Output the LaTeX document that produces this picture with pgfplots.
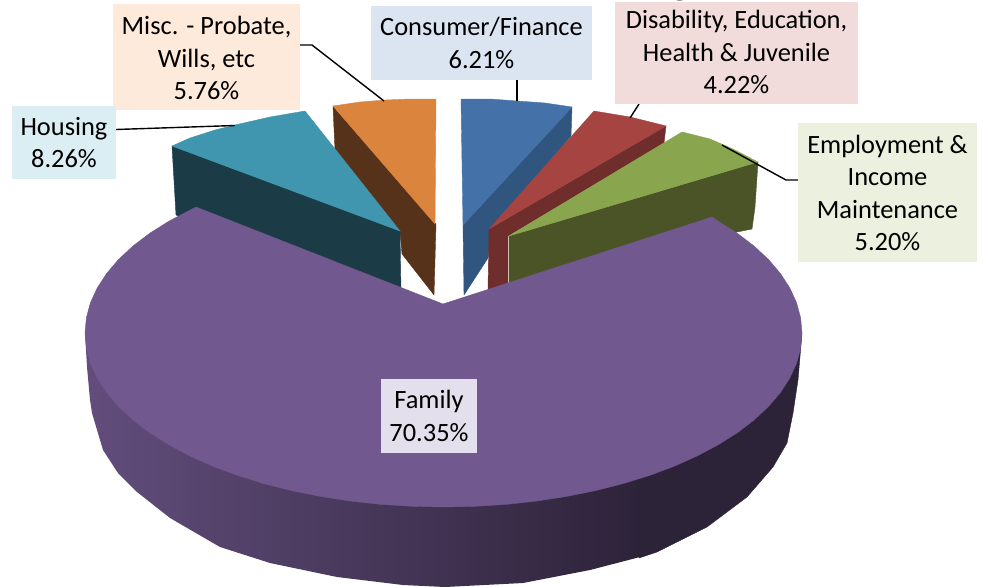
\documentclass[border=0pt]{standalone}
\usepackage{fontspec}
\setmainfont{Carlito}
\usepackage{pgfplots}
\pgfplotsset{compat=1.18}
\definecolor{blueT}{HTML}{4472A8}\definecolor{blueS}{HTML}{30557F}
\definecolor{redT}{HTML}{A64441}\definecolor{redS}{HTML}{6F2D2B}
\definecolor{greenT}{HTML}{89A54E}\definecolor{greenS}{HTML}{4A5427}
\definecolor{tealT}{HTML}{3F96AE}\definecolor{tealS}{HTML}{1B3B47}
\definecolor{orangeT}{HTML}{DB843D}\definecolor{orangeS}{HTML}{57321A}
\definecolor{purpleT}{HTML}{71588F}\definecolor{purpleL}{HTML}{624D7C}\definecolor{purpleR}{HTML}{2D2339}
\definecolor{boxO}{HTML}{FDEADA}\definecolor{boxB}{HTML}{DBE5F1}\definecolor{boxR}{HTML}{F2DCDB}
\definecolor{boxT}{HTML}{DAEEF3}\definecolor{boxG}{HTML}{EBF1DE}\definecolor{boxP}{HTML}{E4DFEC}
\tikzset{lab/.style={font=\fontsize{26.4}{32.5}\selectfont,align=center,text=black,inner sep=0pt,anchor=center}}
\pgfplotsset{poly/.style={fill=#1,draw=#1,line width=0.4pt},
  leader/.style={draw=black,line width=1.4pt}}
\begin{document}
\begin{tikzpicture}
\path[use as bounding box] (0,0) rectangle (984pt,586pt);
\clip (0,0) rectangle (984pt,586pt);
\begin{axis}[at={(0,0)},anchor=south west,scale only axis,width=984pt,height=586pt,
  xmin=0,xmax=984,ymin=0,ymax=586,y dir=reverse,hide axis,clip=false]
% orange
\addplot[poly=orangeS] coordinates {(333,106)(335,150)(400,232)(402,254)(434,295)(436,224)} -- cycle;
\addplot[poly=orangeT] coordinates {(333,106)(360,102)(385,100)(410,99)(436,99)(435,224)} -- cycle;
% teal
\addplot[poly=tealS] coordinates {(172,146)(176,215)(401,292)(400,231)} -- cycle;
\addplot[poly=tealT] coordinates {(172,146)(190,138)(215,130)(235,125)(270,117)(305,111)(400,231)} -- cycle;
% blue
\addplot[poly=blueS] coordinates {(572,107)(571,136)(490,233)(488,258)(464,295)(463,225)} -- cycle;
\addplot[poly=blueT] coordinates {(461,99)(490,99)(517,101)(545,103)(572,107)(463,225)} -- cycle;
% red
\addplot[poly=redS] coordinates {(666,126)(664,143)(508,236)(508,283)(488,290)(489,229)} -- cycle;
\addplot[poly=redT] coordinates {(594,111)(630,117)(666,126)(489,229)} -- cycle;
% green
\addplot[poly=greenS] coordinates {(758,162)(755,207)(752,229)(737,232)(509,285)(509,236)} -- cycle;
\addplot[poly=greenT] coordinates {(682,132)(710,139)(733,149)(758,162)(509,236)} -- cycle;
% family side
\addplot[draw=none,left color=purpleL,right color=purpleR] coordinates {(85,333)(87,367)(90,400)(92,413)(103,450)(118,473)(137,492)(170,518)(220,547)(270,563)(337,577)(403,585)(445,587)(523,583)(590,570)(640,557)(640,400)} -- cycle;
\addplot[poly=purpleR] coordinates {(639,400)(639,558)(657,552)(707,527)(747,497)(773,467)(787,443)(793,413)(798,380)(802,333)} -- cycle;
% family top
\addplot[poly=purpleT] coordinates {(443,304)(196,207)(168.9,221.2)(149.8,233.2)(133,246)(118.6,259.4)(106.6,273.5)(97.2,288)(90.4,302.8)(86.4,317.8)(85,333)
(86.4,348.2)(90.4,363.2)(97.2,378)(106.6,392.5)(118.6,406.5)(133,420)(149.8,432.8)(168.9,444.8)(190,456)(213,466.3)(237.7,475.5)(264.2,483.7)(291.9,490.7)(320.9,496.5)(350.7,501.1)(381.2,504.4)(412.3,506.3)(443.5,507)
(474.7,506.3)(505.8,504.4)(536.3,501.1)(566.1,496.5)(595.1,490.7)(622.8,483.7)(649.3,475.5)(674,466.3)(697,456)(718.1,444.8)(737.2,432.8)(754,420)(768.4,406.5)(780.4,392.5)(789.8,378)(796.6,363.2)(800.6,348.2)(802,333)
(800.6,317.8)(796.6,302.8)(789.8,288)(780.4,273.5)(768.4,259.4)(754,246)(737.2,233.2)(718.1,221.2)(712,217)} -- cycle;
% leaders
\addplot[leader] coordinates {(300,45)(312,45)(384,101)};
\addplot[leader] coordinates {(116,129.5)(235,125.5)};
\addplot[leader] coordinates {(517,80)(517,101)};
\addplot[leader] coordinates {(639,104)(630,118)};
\addplot[leader] coordinates {(798,180)(786,180)(722,145)};
% label boxes
\addplot[fill=boxO,draw=none] coordinates {(113,4)(300,4)(300,110)(113,110)} -- cycle;
\addplot[fill=boxB,draw=none] coordinates {(371,6)(592,6)(592,80)(371,80)} -- cycle;
\addplot[fill=boxR,draw=none] coordinates {(615,2)(858,2)(858,104)(615,104)} -- cycle;
\addplot[fill=boxT,draw=none] coordinates {(12,106)(116,106)(116,179)(12,179)} -- cycle;
\addplot[fill=boxG,draw=none] coordinates {(798,123)(977,123)(977,262)(798,262)} -- cycle;
\addplot[fill=boxP,draw=none] coordinates {(381,379)(477,379)(477,453)(381,453)} -- cycle;
% labels
\node[lab] at (axis cs:206.5,58) {Misc. - Probate,\\Wills, etc\\5.76\%};
\node[lab] at (axis cs:481.5,43) {Consumer/Finance\\6.21\%};
\node[lab] at (axis cs:736.5,52) {Disability, Education,\\Health \& Juvenile\\4.22\%};
\node[lab] at (axis cs:64,142.5) {Housing\\8.26\%};
\node[lab] at (axis cs:887.5,193) {Employment \&\\Income\\Maintenance\\5.20\%};
\node[lab] at (axis cs:429,416) {Family\\70.35\%};
% clipped title descenders
\node[font=\fontsize{38}{38}\selectfont\bfseries,anchor=base,inner sep=0pt] at (axis cs:217,-6) {y};
\node[font=\fontsize{38}{38}\selectfont\bfseries,anchor=base,inner sep=0pt] at (axis cs:618,-5) {y};
\node[font=\fontsize{38}{38}\selectfont\bfseries,anchor=base,inner sep=0pt] at (axis cs:680,-5) {g};
\end{axis}
\end{tikzpicture}
\end{document}
